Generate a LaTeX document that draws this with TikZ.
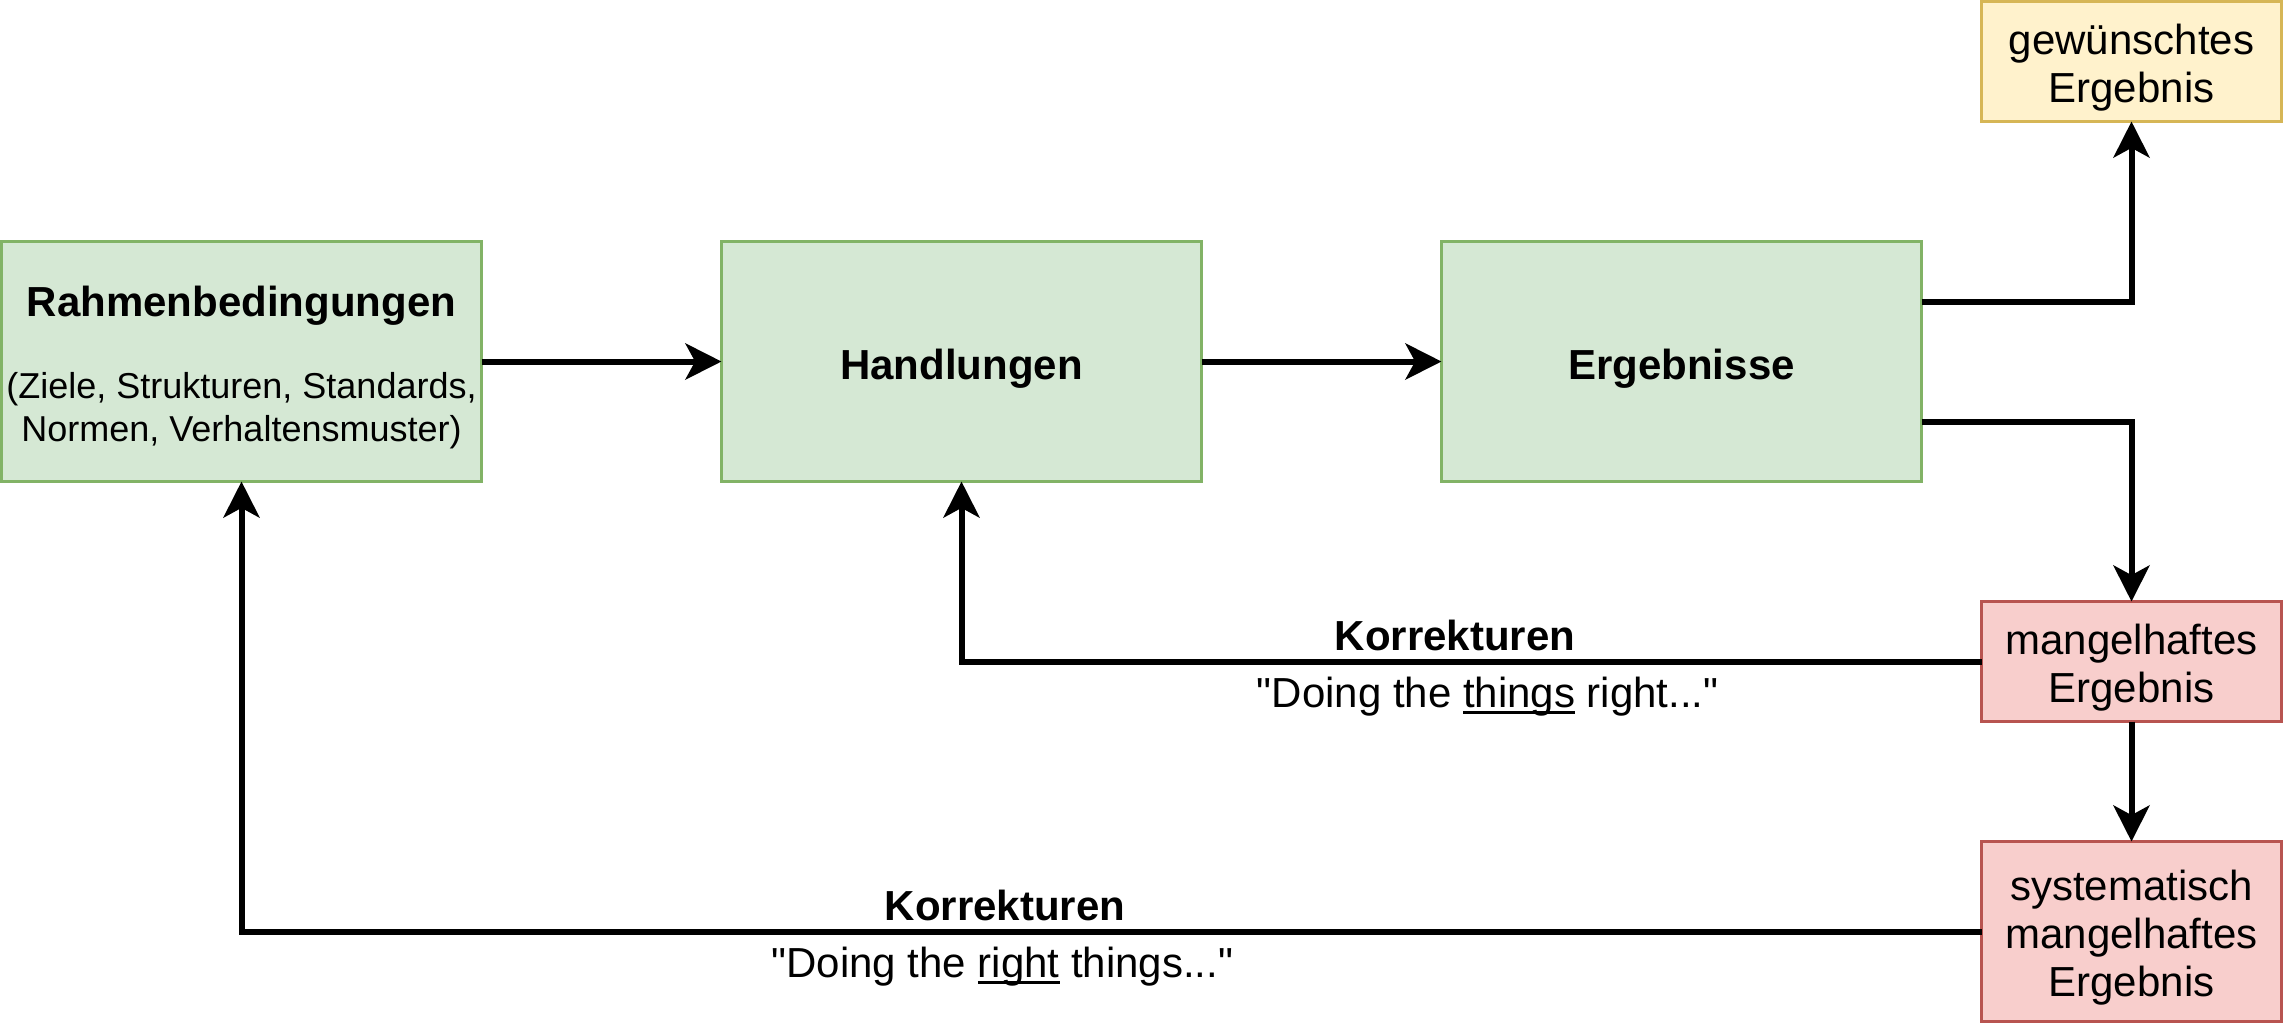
\documentclass[tikz,border=0pt]{standalone}
\usepackage{fontspec}
\setmainfont[Ligatures=TeXOff]{Liberation Sans}
\usetikzlibrary{arrows.meta}
\definecolor{gfill}{HTML}{D5E8D4}
\definecolor{gline}{HTML}{82B366}
\definecolor{yfill}{HTML}{FFF2CC}
\definecolor{yline}{HTML}{D6B656}
\definecolor{rfill}{HTML}{F8CECC}
\definecolor{rline}{HTML}{B85450}
\newcommand\myul[1]{\setbox0\hbox{#1}\rlap{\rule[-2.1pt]{\wd0}{0.75pt}}\box0\relax}
\tikzset{
  box/.style={draw, line width=1pt, inner sep=0pt, outer sep=0pt},
  greenbox/.style={box, fill=gfill, draw=gline, minimum width=160pt, minimum height=80pt},
  yellowbox/.style={box, fill=yfill, draw=yline, minimum width=100pt, minimum height=40pt},
  redbox/.style={box, fill=rfill, draw=rline, minimum width=100pt},
  txt/.style={inner sep=0pt, outer sep=0pt, anchor=base, align=center, font=\fontsize{14}{16}\selectfont},
  conn/.style={line width=2pt, -{Stealth[length=12pt,width=12pt,inset=3.2pt]}},
}
\begin{document}
\begin{tikzpicture}[x=1pt,y=-1pt]
\useasboundingbox (-0.5,-0.5) rectangle (760.5,340.5);
% boxes
\node[greenbox] (r) at (80,120) {};
\node[greenbox] (h) at (320,120) {};
\node[greenbox] (e) at (560,120) {};
\node[yellowbox] (g) at (710,20) {};
\node[redbox, minimum height=40pt] (m) at (710,220) {};
\node[redbox, minimum height=60pt] (s) at (710,310) {};
% connectors
\draw[conn] (r.east) -- (h.west);
\draw[conn] (h.east) -- (e.west);
\draw[conn] ([yshift=20pt]e.east) -| (g.south);
\draw[conn] ([yshift=-20pt]e.east) -| (m.north);
\draw[conn] (m.south) -- (s.north);
\draw[conn] (m.west) -| (h.south);
\draw[conn] (s.west) -| (r.south);
% box texts (anchor base = last line)
\node[txt, font=\fontsize{12}{14.5}\selectfont] (rt) at (80,146.7)
  {{\fontsize{14}{16}\selectfont\bfseries Rahmenbedingungen}\\[12.7pt](Ziele, Strukturen, Standards,\\Normen, Verhaltensmuster)};
\node[txt, font=\fontsize{14}{16}\selectfont\bfseries] (ht) at (320,126.1) {Handlungen};
\node[txt, font=\fontsize{14}{16}\selectfont\bfseries] (et) at (560,126.1) {Ergebnisse};
\node[txt] (gt) at (710,33.7) {gewünschtes\\Ergebnis};
\node[txt] (mt) at (710,233.8) {mangelhaftes\\Ergebnis};
\node[txt] (st) at (710,331.7) {systematisch\\mangelhaftes\\Ergebnis};
% labels
\node[txt, font=\fontsize{14}{16}\selectfont\bfseries] (k1) at (484.5,216.3) {Korrekturen};
\node[txt] (d1) at (495.4,235.3) {"Doing the \myul{things} right..."};
\node[txt, font=\fontsize{14}{16}\selectfont\bfseries] (k2) at (334.5,306.3) {Korrekturen};
\node[txt] (d2) at (333.6,325.3) {"Doing the \myul{right} things..."};
\end{tikzpicture}
\end{document}
